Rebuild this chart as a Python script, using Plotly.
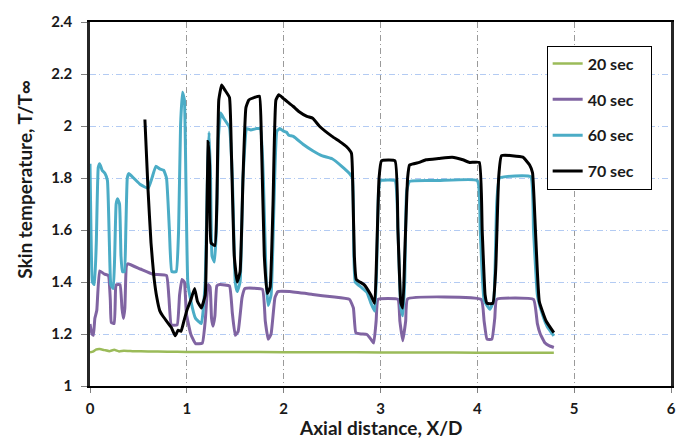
import plotly.graph_objects as go

# Axial position X/D and non-dimensional skin temperature T/T_inf per time step
x_20 = [0, 0.03, 0.06, 0.1, 0.15, 0.2, 0.25, 0.3, 0.35, 0.45, 0.6, 0.8, 1.0, 1.5,
        2.0, 2.5, 3.0, 3.5, 4.0, 4.5, 4.79]
t_20 = [1.13, 1.132, 1.14, 1.142, 1.138, 1.134, 1.139, 1.133, 1.136, 1.134, 1.133,
        1.132, 1.131, 1.131, 1.13, 1.13, 1.129, 1.129, 1.128, 1.128, 1.128]

x_40 = [0, 0.02, 0.035, 0.05, 0.07, 0.1, 0.15, 0.19, 0.21, 0.22, 0.25, 0.265, 0.275,
        0.31, 0.33, 0.345, 0.36, 0.375, 0.39, 0.52, 0.65, 0.79, 0.815, 0.84, 0.9,
        0.925, 0.95, 0.975, 0.995, 1.04, 1.09, 1.16, 1.19, 1.22, 1.24, 1.255, 1.27,
        1.29, 1.31, 1.34, 1.44, 1.47, 1.5, 1.53, 1.57, 1.6, 1.78, 1.81, 1.84, 1.87,
        1.91, 1.94, 2.06, 2.3, 2.5, 2.68, 2.72, 2.745, 2.8, 2.86, 2.9, 2.93, 2.955,
        2.975, 3.18, 3.2, 3.23, 3.26, 3.28, 4.04, 4.07, 4.1, 4.15, 4.18, 4.2, 4.58,
        4.62, 4.65, 4.7, 4.74, 4.79]
t_40 = [1.238, 1.2, 1.195, 1.26, 1.29, 1.443, 1.43, 1.425, 1.33, 1.245, 1.24, 1.38,
        1.39, 1.39, 1.3, 1.26, 1.3, 1.46, 1.47, 1.45, 1.43, 1.425, 1.34, 1.235, 1.235,
        1.35, 1.41, 1.4, 1.28, 1.2, 1.163, 1.165, 1.25, 1.39, 1.38, 1.26, 1.23,
        1.27, 1.385, 1.39, 1.385, 1.28, 1.195, 1.21, 1.34, 1.375, 1.372, 1.25, 1.18, 1.2,
        1.34, 1.363, 1.363, 1.352, 1.343, 1.333, 1.3, 1.205, 1.2, 1.198, 1.18, 1.165, 1.25,
        1.333, 1.333, 1.25, 1.174, 1.25, 1.335, 1.333, 1.25, 1.18, 1.18, 1.26, 1.333, 1.333,
        1.24, 1.2, 1.165, 1.155, 1.148]

x_60 = [0, 0.01, 0.025, 0.045, 0.065, 0.085, 0.1, 0.125, 0.155, 0.18, 0.2, 0.215, 0.24,
        0.255, 0.27, 0.285, 0.305, 0.32, 0.335, 0.355, 0.37, 0.385, 0.4, 0.45, 0.52,
        0.6, 0.64, 0.68, 0.72, 0.76, 0.79, 0.82, 0.845, 0.89, 0.915, 0.935, 0.955,
        0.975, 0.99, 1.01, 1.04, 1.09, 1.15, 1.19, 1.215, 1.23, 1.245, 1.26, 1.285,
        1.305, 1.325, 1.35, 1.38, 1.44, 1.47, 1.5, 1.52, 1.55, 1.58, 1.62, 1.66, 1.72,
        1.76, 1.79, 1.82, 1.84, 1.87, 1.9, 1.93, 1.96, 2.0, 2.03, 2.05, 2.1, 2.2, 2.3,
        2.4, 2.5, 2.6, 2.68, 2.71, 2.725, 2.74, 2.8, 2.86, 2.9, 2.94, 2.96, 2.98, 3.0,
        3.15, 3.18, 3.21, 3.23, 3.25, 3.27, 3.3, 3.6, 4.0, 4.03, 4.07, 4.13, 4.17, 4.2,
        4.23, 4.55, 4.58, 4.62, 4.66, 4.72, 4.79]
t_60 = [1.855, 1.6, 1.4, 1.39, 1.55, 1.84, 1.855, 1.83, 1.817, 1.79, 1.55, 1.39, 1.375,
        1.5, 1.7, 1.72, 1.7, 1.5, 1.44, 1.44, 1.6, 1.8, 1.817, 1.8, 1.775,
        1.76, 1.8, 1.845, 1.835, 1.83, 1.8, 1.6, 1.44, 1.44, 1.6, 2.0, 2.13,
        2.1, 1.8, 1.4, 1.33, 1.26, 1.24, 1.4, 1.85, 1.976, 1.8, 1.5, 1.477,
        1.6, 1.95, 2.05, 2.03, 1.995, 1.8, 1.4, 1.363, 1.4, 1.8, 1.99, 1.985, 1.99,
        1.99, 1.8, 1.4, 1.31, 1.35, 1.7, 1.98, 1.99, 1.98, 1.976, 1.965, 1.96, 1.93, 1.905,
        1.885, 1.874, 1.845, 1.817, 1.8, 1.5, 1.4, 1.38, 1.36, 1.32, 1.288, 1.45, 1.75, 1.79,
        1.79, 1.6, 1.3, 1.27, 1.4, 1.75, 1.787, 1.79, 1.79, 1.6, 1.33, 1.295, 1.33, 1.7,
        1.8, 1.805, 1.6, 1.35, 1.29, 1.23, 1.193]

x_70 = [0.567, 0.6, 0.63, 0.66, 0.69, 0.72, 0.75, 0.8, 0.84, 0.88, 0.91, 0.94, 0.97,
        1.0, 1.04, 1.08, 1.11, 1.15, 1.19, 1.205, 1.22, 1.235, 1.25, 1.29, 1.31, 1.33,
        1.36, 1.39, 1.44, 1.46, 1.49, 1.52, 1.55, 1.58, 1.61, 1.64, 1.7, 1.75, 1.77,
        1.8, 1.83, 1.86, 1.89, 1.92, 1.95, 2.0, 2.04, 2.1, 2.16, 2.24, 2.3, 2.37, 2.5,
        2.58, 2.65, 2.7, 2.715, 2.73, 2.75, 2.83, 2.9, 2.94, 2.96, 2.985, 3.01, 3.15,
        3.18, 3.21, 3.23, 3.25, 3.28, 3.3, 3.4, 3.47, 3.6, 3.74, 3.85, 3.92, 4.02, 4.05,
        4.08, 4.1, 4.16, 4.19, 4.22, 4.25, 4.47, 4.54, 4.57, 4.6, 4.64, 4.71, 4.79]
t_70 = [2.025, 1.75, 1.55, 1.42, 1.34, 1.29, 1.27, 1.245, 1.225, 1.193, 1.215, 1.21, 1.25,
        1.29, 1.33, 1.375, 1.325, 1.3, 1.35, 1.6, 1.94, 1.85, 1.55, 1.54, 1.7, 2.1,
        2.158, 2.14, 2.11, 1.9, 1.5, 1.4, 1.44, 1.8, 2.07, 2.1, 2.11, 2.115, 1.95,
        1.5, 1.356, 1.38, 1.7, 2.1, 2.12, 2.105, 2.093, 2.075, 2.055, 2.037, 2.03, 1.999, 1.96,
        1.94, 1.92, 1.895, 1.75, 1.5, 1.41, 1.39, 1.35, 1.318, 1.5, 1.8, 1.866, 1.866,
        1.6, 1.32, 1.3, 1.5, 1.8, 1.85, 1.86, 1.87, 1.875, 1.88, 1.87, 1.86, 1.86, 1.6,
        1.35, 1.318, 1.318, 1.45, 1.8, 1.886, 1.88, 1.85, 1.82, 1.6, 1.325, 1.25, 1.205]

series_names = ["20 sec", "40 sec", "60 sec", "70 sec"]
series_colors = ["#9BBB59", "#8064A2", "#4BACC6", "#000000"]

x_ticks = [0, 1, 2, 3, 4, 5, 6]
y_ticks = [1, 1.2, 1.4, 1.6, 1.8, 2, 2.2, 2.4]
y_tick_text = ["1", "1.2", "1.4", "1.6", "1.8", "2", "2.2", "2.4"]

FONT = "Lato"
LEGEND_PAD = "\u00a0" * 3  # extra room on the right of each legend label

fig = go.Figure()
for name, color, xs, ys, width in zip(
        series_names, series_colors, [x_20, x_40, x_60, x_70], [t_20, t_40, t_60, t_70],
        [2.5, 3, 3, 3]):
    fig.add_trace(go.Scatter(
        x=xs, y=ys, name=name + LEGEND_PAD, mode="lines", legendgroup=name,
        line=dict(color=color, width=width, shape="spline", smoothing=0.35),
    ))

fig.update_layout(
    width=688, height=439,
    margin=dict(l=90, r=15, t=16, b=53),
    paper_bgcolor="white", plot_bgcolor="white",
    font=dict(family=FONT, color="#1a1a1a"),
    showlegend=True,
    legend=dict(
        x=0.786, y=0.935, xanchor="left", yanchor="top",
        bgcolor="white", bordercolor="black", borderwidth=1,
        font=dict(family=FONT, size=16, color="#1a1a1a", weight="bold"),
        tracegroupgap=12,
    ),
    xaxis=dict(
        range=[0, 6], tickvals=x_ticks, ticks="outside", ticklen=5, tickcolor="#808080",
        tickfont=dict(family=FONT, size=15, weight="bold", color="#1a1a1a"),
        ticklabelstandoff=3,
        showline=True, mirror=True, linecolor="black", linewidth=2,
        showgrid=True, gridcolor="#9a9a9a", gridwidth=1, griddash="6px,3px,1px,3px",
        zeroline=False,
    ),
    yaxis=dict(
        range=[1, 2.4], tickvals=y_ticks, ticktext=y_tick_text, ticks="outside",
        ticklen=6, tickcolor="#808080",
        tickfont=dict(family=FONT, size=15, weight="bold", color="#1a1a1a"),
        ticklabelstandoff=6,
        showline=True, mirror=True, linecolor="#262626", linewidth=2.5,
        showgrid=True, gridcolor="#b3cbf3", gridwidth=1, griddash="6px,3px,1px,3px",
        zeroline=False,
    ),
    annotations=[
        dict(text="Skin temperature, T/T\u221e", xref="paper", yref="paper",
             x=-0.113, y=0.5676, textangle=-90, showarrow=False,
             xanchor="center", yanchor="middle",
             font=dict(family=FONT, size=19, weight="bold", color="#1a1a1a")),
        dict(text="Axial distance, X/D", xref="paper", yref="paper",
             x=0.5, y=-0.1135, showarrow=False, xanchor="center", yanchor="middle",
             font=dict(family=FONT, size=19, weight="bold", color="#1a1a1a")),
    ],
)

fig.write_html("out.html")
